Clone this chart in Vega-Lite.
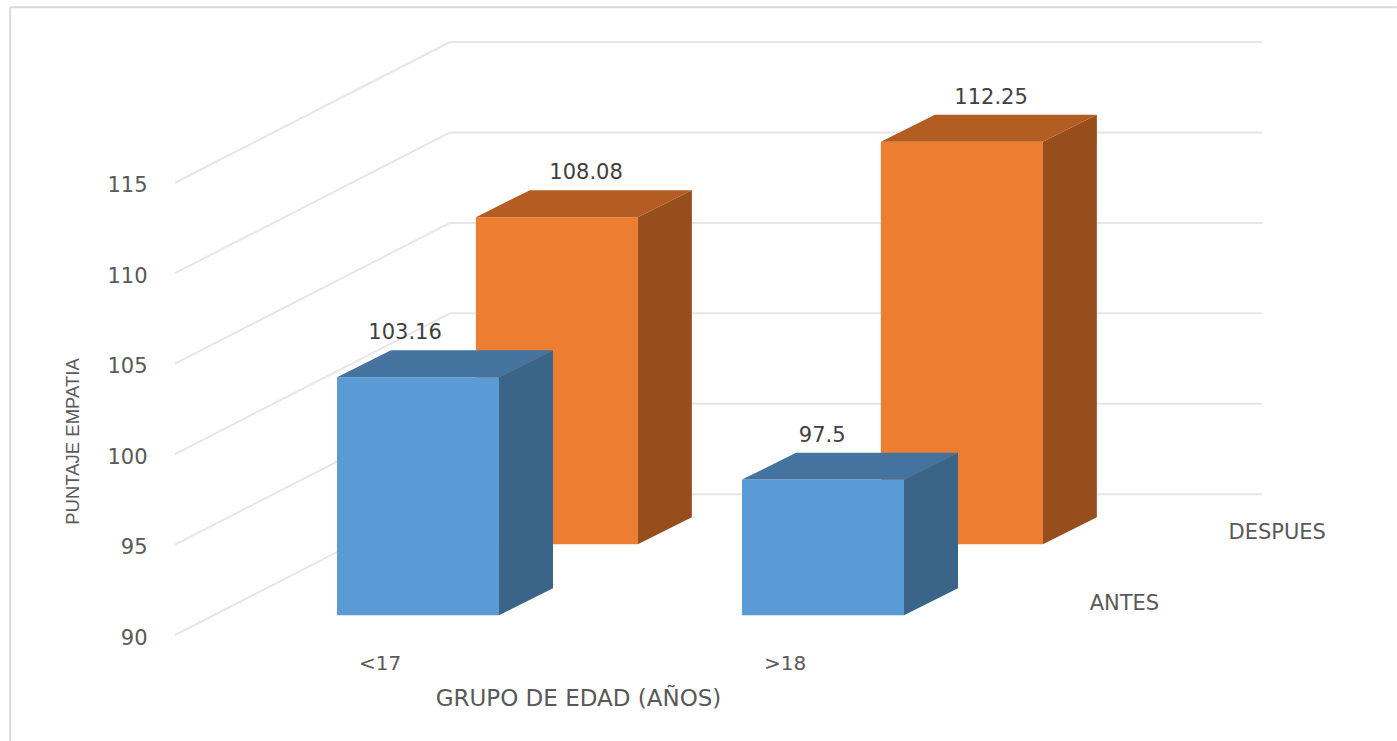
{
  "$schema": "https://vega.github.io/schema/vega-lite/v6.json",
  "autosize": "none",
  "width": 1087,
  "height": 593,
  "padding": {"left": 175, "top": 42, "right": 135, "bottom": 106},
  "background": "white",
  "view": {"stroke": null},
  "datasets": {
    "puntajes": [
      {"grupo": "<17", "momento": "ANTES", "valor": 103.16},
      {"grupo": "<17", "momento": "DESPUES", "valor": 108.08},
      {"grupo": ">18", "momento": "ANTES", "valor": 97.5},
      {"grupo": ">18", "momento": "DESPUES", "valor": 112.25}
    ],
    "marcas": [
      {"puntaje": 90}, {"puntaje": 95}, {"puntaje": 100},
      {"puntaje": 105}, {"puntaje": 110}, {"puntaje": 115}
    ]
  },
  "encoding": {
    "x": {
      "type": "quantitative",
      "scale": {"domain": [-0.505, 2.179], "nice": false, "zero": false},
      "axis": {
        "values": [0, 1],
        "labelExpr": "datum.value === 0 ? '<17' : '>18'",
        "title": "GRUPO DE EDAD (AÑOS)",
        "titleX": 403,
        "titleY": 63,
        "titleAnchor": "middle",
        "titleAlign": "center",
        "titleBaseline": "middle",
        "titleFont": "DejaVu Sans",
        "titleFontSize": 23,
        "titleFontWeight": "normal",
        "titleColor": "#595959",
        "labelFont": "DejaVu Sans",
        "labelFontSize": 20,
        "labelColor": "#595959",
        "labelPadding": 28,
        "labelBaseline": "middle",
        "domain": false,
        "ticks": false,
        "grid": false
      }
    },
    "y": {
      "type": "quantitative",
      "scale": {"domain": [90, 122.78], "nice": false, "zero": false},
      "axis": {
        "values": [90, 95, 100, 105, 110, 115],
        "title": "PUNTAJE EMPATIA",
        "titleX": -103,
        "titleY": 399,
        "titleAngle": 270,
        "titleAnchor": "middle",
        "titleAlign": "center",
        "titleBaseline": "middle",
        "titleFont": "Liberation Sans",
        "titleFontSize": 18.5,
        "titleFontWeight": "normal",
        "titleColor": "#595959",
        "labelFont": "DejaVu Sans",
        "labelFontSize": 21,
        "labelColor": "#595959",
        "labelPadding": 28,
        "labelOffset": 3,
        "domain": false,
        "ticks": false,
        "grid": false
      }
    }
  },
  "layer": [
    {
      "description": "Outer frame of the chart, top and left edges",
      "data": {"values": [{"borde": "marco"}]},
      "layer": [
        {
          "mark": {"type": "rule", "color": "#d9d9d9", "strokeWidth": 2, "clip": false},
          "encoding": {"x": {"datum": -0.912}, "x2": {"datum": 2.512}, "y": {"datum": 124.7}}
        },
        {
          "mark": {"type": "rule", "color": "#d9d9d9", "strokeWidth": 2, "clip": false},
          "encoding": {"x": {"datum": -0.912}, "y": {"datum": 124.7}, "y2": {"datum": 84.1}}
        }
      ]
    },
    {
      "description": "Floor-to-back-wall gridlines: a diagonal on the side wall, then a level line on the back wall",
      "data": {"name": "marcas"},
      "transform": [{"calculate": "datum.puntaje + 7.78", "as": "fondo"}],
      "layer": [
        {
          "mark": {"type": "rule", "color": "#e6e6e6", "strokeWidth": 2},
          "encoding": {"x": {"datum": -0.505}, "x2": {"datum": 0.174}, "y": {"field": "puntaje"}, "y2": {"field": "fondo"}}
        },
        {
          "mark": {"type": "rule", "color": "#e6e6e6", "strokeWidth": 2},
          "encoding": {"x": {"datum": 0.174}, "x2": {"datum": 2.179}, "y": {"field": "fondo"}}
        }
      ]
    },
    {
      "description": "Oblique projection of each bar: series sets the depth, group sets the position",
      "data": {"name": "puntajes"},
      "transform": [
        {"calculate": "datum.grupo === '<17' ? 0 : 1", "as": "g"},
        {"calculate": "datum.momento === 'ANTES' ? 0.14 : 0.645", "as": "d"},
        {"calculate": "datum.g - 0.2 + 0.679 * datum.d", "as": "izq"},
        {"calculate": "datum.g + 0.2 + 0.679 * datum.d", "as": "der"},
        {"calculate": "90 + 7.78 * datum.d", "as": "base"},
        {"calculate": "datum.valor + 7.78 * datum.d", "as": "tope"},
        {"calculate": "datum.tope + 1.49", "as": "topeAtras"},
        {"calculate": "datum.izq + 0.1333", "as": "izqAtras"},
        {"calculate": "datum.der + 0.1333", "as": "derAtras"},
        {"calculate": "datum.base + 1.49", "as": "baseAtras"},
        {"calculate": "[0, 1, 2, 3]", "as": "k"},
        {"flatten": ["k"]},
        {"calculate": "[datum.izq, datum.izqAtras, datum.der, datum.derAtras][datum.k]", "as": "techoX"},
        {"calculate": "[datum.tope, datum.topeAtras, datum.topeAtras, datum.topeAtras][datum.k]", "as": "techoY"},
        {"calculate": "[datum.tope, datum.tope, datum.tope, datum.topeAtras][datum.k]", "as": "techoY2"},
        {"calculate": "datum.k === 0 ? datum.der : datum.derAtras", "as": "ladoX"},
        {"calculate": "datum.k === 0 ? datum.tope : datum.topeAtras", "as": "ladoY"},
        {"calculate": "datum.k === 0 ? datum.base : datum.baseAtras", "as": "ladoY2"},
        {"calculate": "datum.momento === 'DESPUES' ? datum.g + 0.51 : datum.g + (datum.g === 0 ? 0.063 : 0.093)", "as": "etiquetaX"},
        {"calculate": "datum.d + 0.095", "as": "dMedio"},
        {"calculate": "1.5 + 0.679 * datum.dMedio", "as": "serieX"},
        {"calculate": "90 + 7.78 * datum.dMedio", "as": "serieY"}
      ],
      "layer": [
        {
          "transform": [{"filter": "datum.momento === 'DESPUES' && datum.k === 0"}],
          "mark": {"type": "rect", "color": "#ed7d31"},
          "encoding": {"x": {"field": "izq"}, "x2": {"field": "der"}, "y": {"field": "tope"}, "y2": {"field": "base"}}
        },
        {
          "transform": [{"filter": "datum.momento === 'DESPUES' && datum.k < 2"}],
          "mark": {"type": "area", "color": "#984e1c", "orient": "vertical"},
          "encoding": {"x": {"field": "ladoX"}, "y": {"field": "ladoY"}, "y2": {"field": "ladoY2"}, "detail": {"field": "grupo"}}
        },
        {
          "transform": [{"filter": "datum.momento === 'DESPUES'"}],
          "mark": {"type": "area", "color": "#b35d22", "orient": "vertical"},
          "encoding": {"x": {"field": "techoX"}, "y": {"field": "techoY"}, "y2": {"field": "techoY2"}, "detail": {"field": "grupo"}}
        },
        {
          "transform": [{"filter": "datum.momento === 'ANTES' && datum.k === 0"}],
          "mark": {"type": "rect", "color": "#5b9bd5"},
          "encoding": {"x": {"field": "izq"}, "x2": {"field": "der"}, "y": {"field": "tope"}, "y2": {"field": "base"}}
        },
        {
          "transform": [{"filter": "datum.momento === 'ANTES' && datum.k < 2"}],
          "mark": {"type": "area", "color": "#3a6488", "orient": "vertical"},
          "encoding": {"x": {"field": "ladoX"}, "y": {"field": "ladoY"}, "y2": {"field": "ladoY2"}, "detail": {"field": "grupo"}}
        },
        {
          "transform": [{"filter": "datum.momento === 'ANTES'"}],
          "mark": {"type": "area", "color": "#44739f", "orient": "vertical"},
          "encoding": {"x": {"field": "techoX"}, "y": {"field": "techoY"}, "y2": {"field": "techoY2"}, "detail": {"field": "grupo"}}
        },
        {
          "description": "Value printed above each bar",
          "transform": [{"filter": "datum.k === 0"}],
          "mark": {"type": "text", "font": "DejaVu Sans", "fontSize": 21, "color": "#404040", "align": "center", "baseline": "middle", "dy": -17},
          "encoding": {"x": {"field": "etiquetaX"}, "y": {"field": "topeAtras"}, "text": {"field": "valor"}}
        },
        {
          "description": "Series names along the floor's right edge",
          "transform": [{"filter": "datum.k === 0 && datum.g === 0"}],
          "mark": {"type": "text", "font": "DejaVu Sans", "fontSize": 21, "color": "#595959", "align": "left", "baseline": "middle", "dx": 38, "dy": 2, "clip": false},
          "encoding": {"x": {"field": "serieX"}, "y": {"field": "serieY"}, "text": {"field": "momento"}}
        }
      ]
    }
  ]
}
